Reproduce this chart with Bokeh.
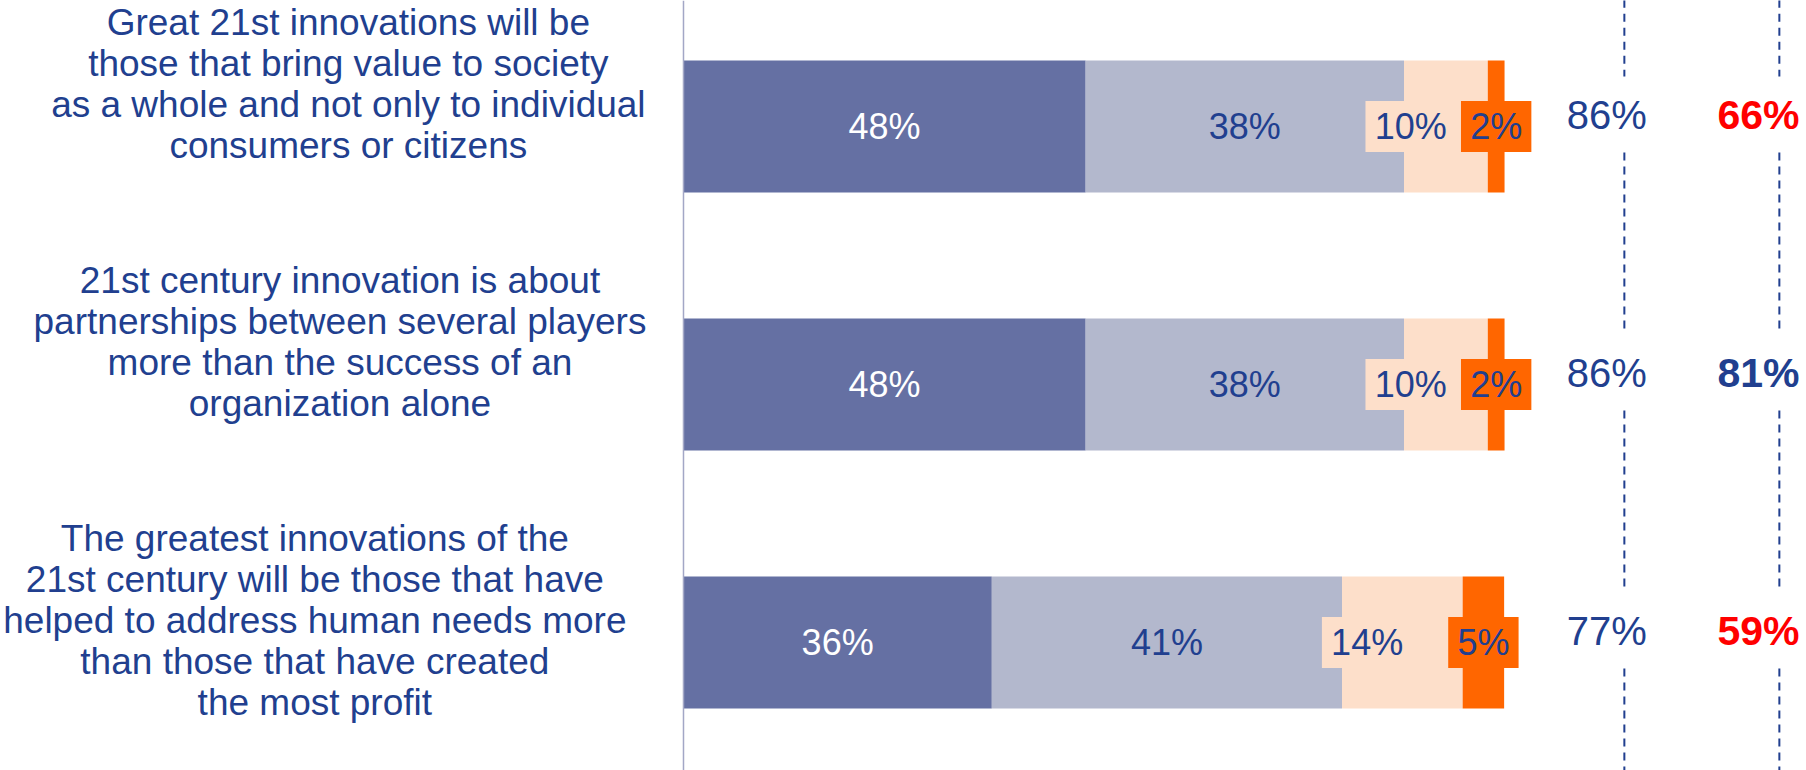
from bokeh.plotting import figure
from bokeh.models import Range1d, Span
from bokeh.core.properties import value
from bokeh.embed import file_html
from bokeh.resources import INLINE

# ---------------- data ----------------
statements = [
    "Great 21st innovations will be\nthose that bring value to society\nas a whole and not only to individual\nconsumers or citizens",
    "21st century innovation is about\npartnerships between several players\nmore than the success of an\norganization alone",
    "The greatest innovations of the\n21st century will be those that have\nhelped to address human needs more\nthan those that have created\nthe most profit",
]
strongly_agree = [48, 48, 36.8]
somewhat_agree = [38, 38, 41.8]
somewhat_disagree = [10, 10, 14.4]
strongly_disagree = [2, 2, 4.95]

strongly_agree_labels = ["48%", "48%", "36%"]
somewhat_agree_labels = ["38%", "38%", "41%"]
somewhat_disagree_labels = ["10%", "10%", "14%"]
strongly_disagree_labels = ["2%", "2%", "5%"]

total_agree_labels = ["86%", "86%", "77%"]
second_column_labels = ["66%", "81%", "59%"]

# ---------------- styles / layout ----------------
C_DARK = "#6570A3"
C_GREY = "#B3B8CD"
C_PEACH = "#FDDFCA"
C_ORANGE = "#FF6600"
C_TEXT = "#213F8F"
C_RED = "#FF0000"
second_column_colors = [C_RED, C_TEXT, C_RED]
FONT = "Liberation Sans"
statement_x = [-40.0, -41.0, -44.0]   # centre of each statement block

rows = [2, 1, 0]
BAR_H = 0.512
BOX_H = 0.198

W, H = 1806, 770
p = figure(width=W, height=H, output_backend="svg", toolbar_location=None,
           x_range=Range1d(-81.52, 134.04), y_range=Range1d(-0.4961, 2.4884),
           min_border=0)
p.axis.visible = False
p.grid.visible = False
p.outline_line_color = None
p.background_fill_color = "white"
p.border_fill_color = "white"

# cumulative segment bounds
s1_l = [0.0] * 3
s1_r = [a for a in strongly_agree]
s2_r = [a + b for a, b in zip(s1_r, somewhat_agree)]
s3_r = [a + b for a, b in zip(s2_r, somewhat_disagree)]
s4_r = [a + b for a, b in zip(s3_r, strongly_disagree)]

p.hbar(y=rows, left=s1_l, right=s1_r, height=BAR_H, fill_color=C_DARK, line_color=None)
p.hbar(y=rows, left=s1_r, right=s2_r, height=BAR_H, fill_color=C_GREY, line_color=None)
p.hbar(y=rows, left=s2_r, right=s3_r, height=BAR_H, fill_color=C_PEACH, line_color=None)
p.hbar(y=rows, left=s3_r, right=s4_r, height=BAR_H, fill_color=C_ORANGE, line_color=None)

# label boxes for the small segments
orange_c = [(a + b) / 2 for a, b in zip(s3_r, s4_r)]
orange_box_l = [c - 4.2 for c in orange_c]
orange_box_r = [c + 4.2 for c in orange_c]
peach_text_x = [(a + b) / 2 - 4.2 for a, b in zip(s2_r, s3_r)]
peach_box_l = [x - 5.4 for x in peach_text_x]

p.hbar(y=rows, left=peach_box_l, right=orange_box_l, height=BOX_H, fill_color=C_PEACH, line_color=None)
p.hbar(y=rows, left=orange_box_l, right=orange_box_r, height=BOX_H, fill_color=C_ORANGE, line_color=None)

# axis line at 0
p.add_layout(Span(location=0, dimension="height", line_color="#A3A7C6", line_width=1.5))

# in-bar labels
def bar_text(xs, labels, color):
    p.text(x=xs, y=rows, text=labels, text_align="center", text_baseline="middle",
           text_font=value(FONT), text_font_size="36px", text_color=color)

bar_text([(a + b) / 2 for a, b in zip(s1_l, s1_r)], strongly_agree_labels, "white")
bar_text([(a + b) / 2 for a, b in zip(s1_r, s2_r)], somewhat_agree_labels, C_TEXT)
bar_text(peach_text_x, somewhat_disagree_labels, C_TEXT)
bar_text(orange_c, strongly_disagree_labels, C_TEXT)

# left statements
p.text(x=statement_x, y=[r + BAR_H / 2 + 0.228 for r in rows], text=statements,
       text_align="center", text_baseline="top", text_font=value(FONT),
       text_font_size="37px", text_line_height=1.0, text_color=C_TEXT)

# dashed separators on the right
LINE1_X, LINE2_X = 112.3, 130.8
top, bottom = 2.6, -0.6
gap_up, gap_dn = 0.194, 0.101
y0s = [top] + [r - gap_dn for r in rows]
y1s = [r + gap_up for r in rows] + [bottom]
for lx in (LINE1_X, LINE2_X):
    p.segment(x0=[lx] * 4, x1=[lx] * 4, y0=y0s, y1=y1s, line_color=C_TEXT,
              line_width=2, line_dash="8 6")

# right-hand totals
p.text(x=[LINE1_X - 2.1] * 3, y=[r + 0.0465 for r in rows], text=total_agree_labels,
       text_align="center", text_baseline="middle", text_font=value(FONT),
       text_font_size="40px", text_color=C_TEXT)
p.text(x=[LINE2_X - 2.5] * 3, y=[r + 0.0465 for r in rows], text=second_column_labels,
       text_align="center", text_baseline="middle", text_font=value(FONT),
       text_font_size="41px", text_font_style="bold", text_color=second_column_colors)

open("out.html", "w").write(file_html(p, INLINE))
